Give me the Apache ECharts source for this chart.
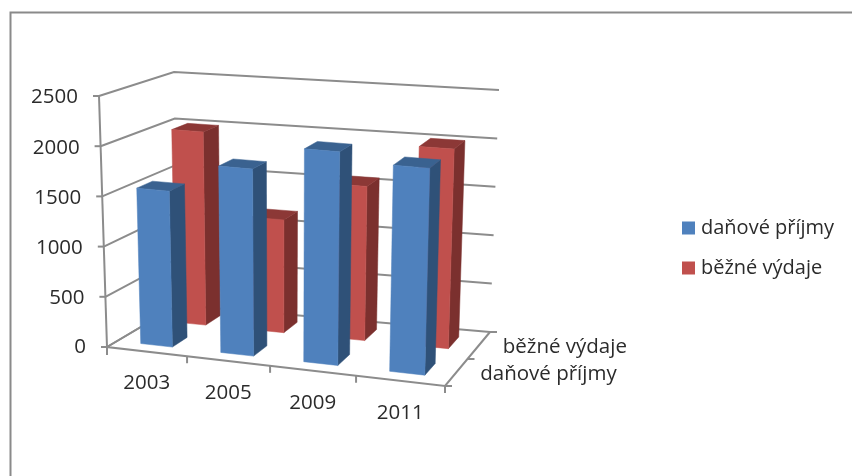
<!DOCTYPE html>
<html><head><meta charset="utf-8">
<style>html,body{margin:0;padding:0;background:#fff}#c{width:852px;height:476px}</style>
<script src="https://cdn.jsdelivr.net/npm/echarts@6/dist/echarts.min.js"></script>
</head><body><div id="c"></div>
<script>
const categories = ['2003','2005','2009','2011'];
const yTicks = [0,500,1000,1500,2000,2500];
const seriesNames = ['daňové příjmy','běžné výdaje'];
const danovePrijmy = [1560,1855,2100,2015];
const bezneVydaje = [2005,1160,1570,2015];

const FONT = '"Open Sans"';
const TXT = '#2b2b2b', LINE = '#8c8c8c';
// projected box: floor & ceiling quads (front-left, front-right, back-right, back-left)
const floorQ = [[107,347],[445,386],[490,332],[178,305]];
const ceilQ  = [[99,96],[452,126],[499,90],[174,72]];
function bil(q){
  return (u,v)=>{
    const k=i=>(q[0][i]*(1-u)+q[1][i]*u)*(1-v)+(q[3][i]*(1-u)+q[2][i]*u)*v;
    return [k(0),k(1)];
  };
}
const F=bil(floorQ),C=bil(ceilQ);
// mild perspective along the category direction
const warp=u=>0.93*u+0.07*u*u;
function P(u,v,w){const t=warp(u),a=F(t,v),b=C(t,v);return [a[0]+(b[0]-a[0])*w,a[1]+(b[1]-a[1])*w];}

function barItem(row,colors){
  return function(params,api){
    const W=api.getWidth(),H=api.getHeight();
    const p=api.coord([api.value(0),api.value(1)]);
    const cw=api.size([1,0])[0]/W;
    const u0=p[0]/W-cw*0.2,u1=p[0]/W+cw*0.2,w=1-p[1]/H;
    const v0=(row+0.29)/2,v1=(row+0.73)/2;
    const poly=(pts,c)=>({type:'polygon',shape:{points:pts},style:{fill:c,stroke:c,lineWidth:0.5}});
    return {type:'group',children:[
      poly([P(u1,v0,0),P(u1,v1,0),P(u1,v1,w),P(u1,v0,w)],colors[1]),
      poly([P(u0,v0,w),P(u1,v0,w),P(u1,v1,w),P(u0,v1,w)],colors[2]),
      poly([P(u0,v0,0),P(u1,v0,0),P(u1,v0,w),P(u0,v0,w)],colors[0])
    ]};
  };
}
const lineSt={stroke:LINE,lineWidth:2,fill:null};
function gridItem(params,api){
  const H=api.getHeight();
  const val=api.value(1);
  const w=1-api.coord([0,val])[1]/H;
  const a=P(0,0,w),b=P(0,1,w),c=P(1,1,w);
  return {type:'group',children:[
    {type:'polyline',shape:{points:[a,b,c]},style:lineSt},
    {type:'line',shape:{x1:a[0]-6,y1:a[1],x2:a[0],y2:a[1]},style:lineSt},
    {type:'text',style:{text:String(val),x:a[0]-21,y:a[1]+(val===0?0:1.5),align:'right',verticalAlign:'middle',fontFamily:FONT,fontSize:20.5,fill:TXT}}
  ]};
}
function catItem(params,api){
  const W=api.getWidth();
  const i=api.value(0);
  const p=api.coord([i,0]);
  const cw=api.size([1,0])[0]/W;
  const m=P(p[0]/W,0,0),e=P(p[0]/W+cw/2,0,0);
  return {type:'group',children:[
    {type:'line',shape:{x1:e[0],y1:e[1],x2:e[0],y2:e[1]+7},style:lineSt},
    {type:'text',style:{text:categories[i],x:m[0],y:m[1]+32,align:'center',verticalAlign:'middle',fontFamily:FONT,fontSize:20.5,fill:TXT}}
  ]};
}
function depthItem(params,api){
  const i=params.dataIndex;
  const m=P(1,(i+0.5)/2,0),e=P(1,(i+1)/2,0);
  return {type:'group',children:[
    {type:'line',shape:{x1:e[0],y1:e[1],x2:e[0]+7,y2:e[1]},style:lineSt},
    {type:'text',style:{text:seriesNames[i],x:m[0]+24,y:m[1]+1.5,align:'left',verticalAlign:'middle',fontFamily:FONT,fontSize:20.5,fill:TXT}}
  ]};
}
function frameItem(){
  const a=P(0,0,0),t=P(0,0,1),b=P(1,0,0),c=P(1,1,0),d=P(0,1,0);
  return {type:'group',children:[
    {type:'line',shape:{x1:a[0],y1:a[1],x2:t[0],y2:t[1]},style:lineSt},
    {type:'polyline',shape:{points:[d,a,b,c]},style:lineSt},
    {type:'line',shape:{x1:a[0],y1:a[1],x2:a[0],y2:a[1]+8},style:lineSt},
    {type:'line',shape:{x1:b[0],y1:b[1],x2:b[0]+7,y2:b[1]},style:lineSt},
    {type:'line',shape:{x1:c[0],y1:c[1],x2:c[0]+7,y2:c[1]},style:lineSt}
  ]};
}
const chart=echarts.init(document.getElementById('c'),null,{renderer:'canvas'});
chart.setOption({
  animation:false,
  backgroundColor:'#fff',
  graphic:[{type:'rect',left:8,top:10,shape:{width:900,height:520},style:{fill:null,stroke:'#8a8a8a',lineWidth:2},silent:true,z:-1}],
  grid:{left:0,right:0,top:0,bottom:0,containLabel:false},
  xAxis:{type:'category',data:categories,show:false},
  yAxis:{type:'value',min:0,max:2500,interval:500,show:false},
  legend:{data:seriesNames,orient:'vertical',left:677,top:213,itemWidth:13,itemHeight:13,itemGap:20,icon:'rect',
    textStyle:{fontFamily:FONT,fontSize:20,color:TXT,padding:[2,0,0,1]}},
  series:[
    {name:'grid',type:'custom',renderItem:gridItem,data:yTicks.map(t=>[0,t]),silent:true,z:1},
    {name:'frame',type:'custom',renderItem:frameItem,data:[[0,0]],silent:true,z:1},
    {name:'cats',type:'custom',renderItem:catItem,data:categories.map((c,i)=>[i,0]),silent:true,z:1},
    {name:'depth',type:'custom',renderItem:depthItem,data:seriesNames.map((c,i)=>[0,0]),silent:true,z:1},
    {name:seriesNames[1],type:'custom',renderItem:barItem(1,['#C0504D','#7B302E','#8C3836']),itemStyle:{color:'#C0504D'},
      data:bezneVydaje.map((v,i)=>[i,v]),encode:{x:0,y:1},z:2},
    {name:seriesNames[0],type:'custom',renderItem:barItem(0,['#4F81BD','#2F5178','#3A6290']),itemStyle:{color:'#4F81BD'},
      data:danovePrijmy.map((v,i)=>[i,v]),encode:{x:0,y:1},z:3}
  ]
});
</script></body></html>
